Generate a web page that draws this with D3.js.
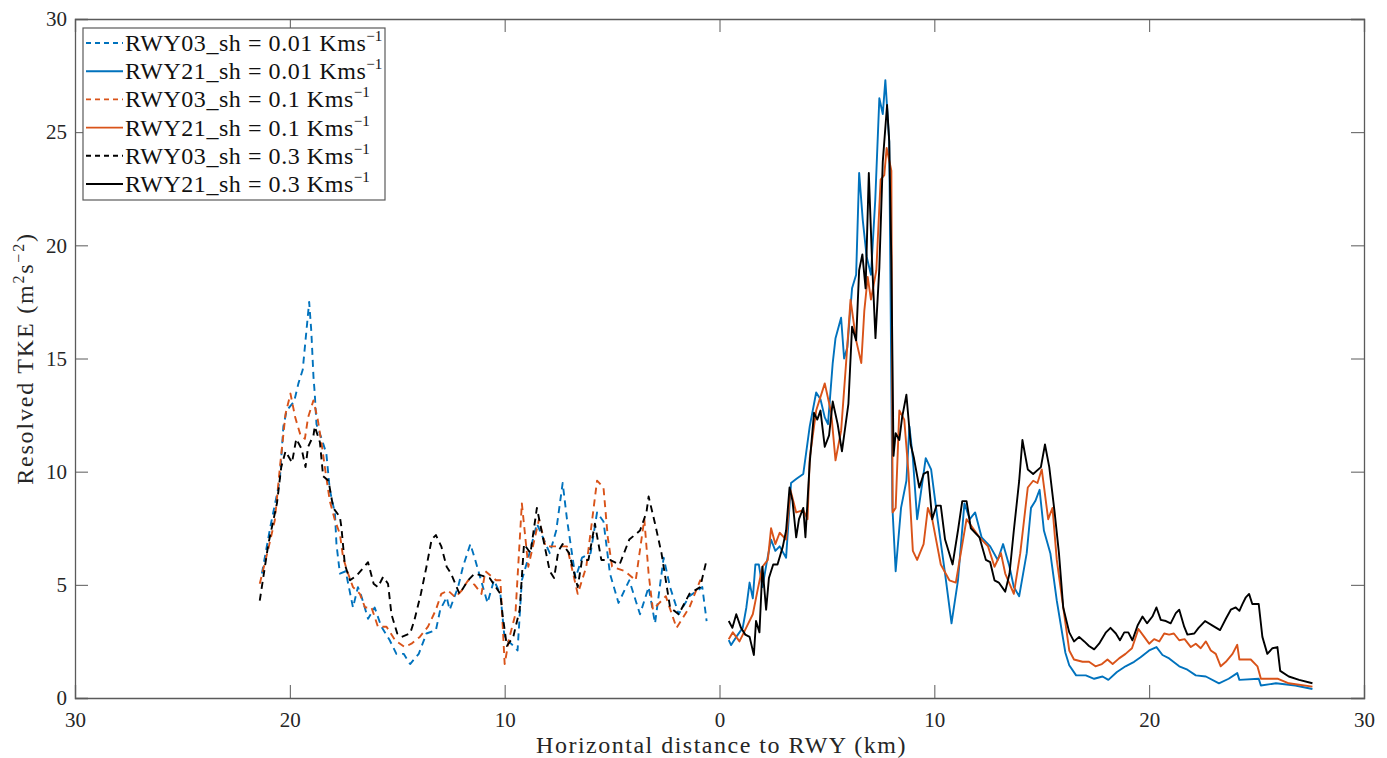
<!DOCTYPE html>
<html>
<head>
<meta charset="utf-8">
<script src="https://cdn.jsdelivr.net/npm/d3@7"></script>
<style>
  body { margin: 0; background: #fff; }
  svg { font-family: "Liberation Serif", "Times New Roman", serif; }
</style>
</head>
<body>
<div class="chart"></div>
<script>
// RWY03 runs are on the approach side (negative x, shown as distance), RWY21 on the other side
var rwy03_001_x = [-21.3,-20.9,-20.47,-20.3,-20.15,-19.8,-19.6,-19.4,-19.2,-19.1,-19.0,-18.9,-18.84,-18.76,-18.5,-18.3,-18.14,-17.9,-17.83,-17.67,-17.4,-17.06,-16.83,-16.67,-16.36,-16.05,-15.74,-15.35,-15.04,-14.7,-14.4,-14.0,-13.64,-13.2,-13.0,-12.7,-12.56,-12.17,-11.94,-11.6,-11.4,-10.8,-10.5,-10.2,-10.0,-9.7,-9.4,-9.2,-8.9,-8.5,-7.9,-7.6,-7.3,-7.1,-6.7,-6.4,-6.0,-5.7,-5.4,-5.1,-4.7,-4.2,-3.7,-3.3,-3.0,-2.6,-2.3,-1.9,-1.4,-0.8,-0.6];
var rwy03_001_y = [5.5,7.6,9.6,12.0,12.7,13.1,13.9,14.5,16.5,17.5,16.2,14.2,13.45,12.1,11.4,10.8,9.2,8.15,6.8,5.5,5.6,4.0,4.9,4.5,3.5,4.0,3.15,2.55,1.95,1.95,1.5,1.95,2.85,3.0,3.9,4.45,3.9,4.9,5.8,6.8,6.2,4.2,5.2,4.6,2.6,2.4,2.1,5.2,6.2,7.7,6.4,7.4,9.5,7.9,5.3,6.2,6.4,8.2,7.8,5.5,4.2,5.2,3.7,4.9,3.3,6.2,4.9,3.7,4.5,4.9,3.4];

var rwy03_01_x = [-21.4,-21.0,-20.7,-20.45,-20.2,-19.97,-19.75,-19.5,-19.3,-19.15,-18.9,-18.7,-18.5,-18.37,-18.14,-17.9,-17.67,-17.52,-17.29,-17.06,-16.74,-16.5,-16.2,-15.9,-15.5,-15.1,-14.65,-14.34,-13.95,-13.57,-13.2,-12.95,-12.64,-12.3,-12.0,-11.7,-11.4,-11.08,-10.9,-10.4,-10.2,-10.0,-9.8,-9.5,-9.2,-8.9,-8.4,-8.1,-7.6,-7.1,-6.6,-6.2,-5.7,-5.4,-5.2,-5.0,-4.4,-3.9,-3.5,-3.3,-3.1,-2.5,-2.0,-1.4,-0.9,-0.6];
var rwy03_01_y = [5.05,6.6,7.85,10.3,12.55,13.45,12.4,11.6,11.45,12.4,13.15,12.3,11.1,10.2,8.7,7.85,7.25,6.2,5.5,4.9,4.6,4.0,4.0,3.15,3.15,2.55,2.25,2.4,2.7,3.15,3.9,4.6,4.75,4.45,4.75,5.2,5.0,4.6,5.6,5.2,5.2,1.5,2.6,3.7,8.6,5.8,7.9,6.7,6.7,6.7,4.6,5.8,9.6,9.3,7.1,5.8,5.6,5.2,7.9,5.5,3.9,4.5,3.1,4.0,5.2,5.1];

var rwy03_03_x = [-21.4,-21.0,-20.6,-20.4,-20.2,-19.9,-19.7,-19.45,-19.27,-19.15,-18.9,-18.84,-18.6,-18.45,-18.2,-17.98,-17.67,-17.6,-17.44,-17.2,-16.9,-16.67,-16.36,-16.1,-15.9,-15.66,-15.43,-15.27,-15.0,-14.8,-14.4,-14.2,-13.9,-13.64,-13.4,-13.2,-12.95,-12.7,-12.5,-12.1,-11.7,-11.4,-10.7,-10.2,-10.1,-9.9,-9.6,-9.3,-9.1,-8.8,-8.5,-8.2,-7.9,-7.7,-7.5,-7.3,-7.0,-6.6,-6.4,-6.1,-5.8,-5.5,-5.1,-4.65,-4.2,-3.7,-3.4,-3.3,-3.0,-2.7,-2.3,-1.9,-1.4,-0.9,-0.6];
var rwy03_03_y = [4.3,6.8,8.6,10.2,10.9,10.4,11.45,11.0,10.2,11.1,11.6,12.0,11.3,9.8,9.6,8.4,8.0,7.55,5.9,5.2,5.4,5.65,6.0,5.05,4.9,5.35,5.05,3.7,2.85,2.7,2.85,3.45,4.6,5.8,7.0,7.2,6.7,5.8,5.5,4.6,5.2,5.5,5.3,4.6,3.7,2.3,2.7,3.9,6.8,6.4,8.4,7.0,5.6,5.3,6.5,6.8,6.4,4.9,6.1,6.1,7.7,6.1,6.1,5.9,7.0,7.4,8.2,8.9,7.7,6.4,4.0,3.7,4.6,4.9,6.1];

var rwy21_001_x = [0.43,0.54,0.78,1.08,1.25,1.4,1.55,1.67,1.83,2.0,2.2,2.4,2.6,2.8,3.1,3.33,3.6,3.9,4.2,4.5,4.7,4.9,5.05,5.27,5.4,5.66,5.8,5.95,6.17,6.36,6.5,6.67,6.85,7.05,7.25,7.44,7.6,7.72,7.9,8.05,8.2,8.45,8.7,8.84,9.0,9.2,9.6,9.85,10.15,10.5,10.8,11.1,11.4,11.65,11.9,12.2,12.6,12.95,13.2,13.5,13.7,13.95,14.3,14.5,14.7,14.9,15.1,15.4,15.7,16.1,16.28,16.6,17.05,17.44,17.83,18.1,18.5,18.9,19.3,19.6,20.0,20.34,20.62,20.93,21.4,21.78,22.17,22.64,23.25,23.7,24.1,24.2,25.1,25.2,25.9,26.8,27.6];
var rwy21_001_y = [2.56,2.34,2.7,3.1,4.0,5.1,4.4,5.9,5.9,4.9,6.0,7.0,6.5,6.7,6.2,9.5,9.7,9.9,12.0,13.5,13.2,12.4,12.1,14.8,15.9,16.8,15.0,15.5,18.1,18.7,23.2,21.1,19.5,18.7,22.0,26.5,25.8,27.3,24.6,8.4,5.6,8.4,9.6,12.0,10.6,7.9,10.6,10.1,7.9,5.5,3.3,5.2,8.6,7.9,8.2,7.1,6.7,6.1,6.8,5.8,4.9,4.5,6.4,8.4,8.7,9.2,7.4,6.4,4.3,2.0,1.45,1.0,1.0,0.85,0.95,0.8,1.15,1.4,1.6,1.8,2.1,2.25,1.9,1.75,1.4,1.25,1.0,0.95,0.65,0.85,1.1,0.8,0.85,0.55,0.65,0.55,0.4];

var rwy21_01_x = [0.43,0.62,0.93,1.24,1.55,1.78,2.0,2.25,2.4,2.6,2.8,3.1,3.3,3.57,3.9,4.1,4.2,4.5,4.9,5.2,5.4,5.66,5.9,6.1,6.36,6.6,6.74,6.9,7.05,7.3,7.5,7.67,7.78,8.0,8.06,8.2,8.37,8.6,8.8,9.0,9.2,9.5,9.7,9.9,10.3,10.7,11.0,11.5,11.8,12.1,12.5,12.8,13.1,13.3,13.7,14.0,14.35,14.6,14.8,15.0,15.3,15.5,15.7,16.0,16.28,16.5,16.9,17.2,17.5,17.8,18.06,18.3,18.6,18.9,19.2,19.5,19.77,20.0,20.23,20.47,20.7,20.93,21.15,21.4,21.65,21.94,22.17,22.4,22.64,22.87,23.1,23.33,23.57,23.88,24.1,24.2,24.73,25.04,25.2,26.0,26.5,27.6];
var rwy21_01_y = [2.6,2.9,2.5,3.1,3.7,4.8,5.8,6.1,7.5,6.8,7.3,7.0,9.2,8.2,8.3,7.9,10.6,12.7,13.9,12.6,10.5,11.8,14.9,17.6,15.8,14.8,17.1,18.6,17.6,18.9,22.9,23.1,24.3,23.3,8.2,8.4,12.7,12.3,9.9,6.5,6.1,6.8,8.4,7.9,5.9,5.2,5.1,7.9,7.5,7.1,6.7,5.8,6.4,5.5,4.6,6.4,9.3,9.6,9.5,10.1,7.9,8.4,6.1,4.0,2.1,1.7,1.6,1.6,1.4,1.5,1.7,1.5,1.75,1.95,2.2,3.05,2.7,2.4,2.6,2.5,2.85,2.8,2.85,2.55,2.6,2.25,2.4,2.2,2.5,2.1,1.95,1.4,1.6,1.95,2.35,1.7,1.7,1.4,0.85,0.85,0.65,0.5];

var rwy21_03_x = [0.43,0.6,0.78,1.0,1.2,1.4,1.6,1.7,1.86,2.0,2.17,2.3,2.5,2.7,2.95,3.1,3.26,3.4,3.57,3.7,3.9,4.0,4.2,4.4,4.55,4.7,4.9,5.1,5.27,5.5,5.7,6.0,6.17,6.36,6.5,6.65,6.8,6.95,7.1,7.26,7.44,7.6,7.8,7.9,8.0,8.1,8.2,8.37,8.5,8.7,8.9,9.05,9.3,9.5,9.7,9.9,10.1,10.3,10.5,10.85,11.1,11.3,11.5,11.7,12.1,12.4,12.6,12.8,13.0,13.3,13.5,13.7,13.95,14.1,14.35,14.6,14.96,15.15,15.35,15.6,15.8,16.0,16.28,16.5,16.74,16.98,17.2,17.44,17.67,17.99,18.2,18.45,18.64,18.84,19.03,19.22,19.46,19.69,19.9,20.15,20.34,20.54,20.78,21.0,21.24,21.4,21.63,21.78,22.1,22.3,22.6,22.95,23.3,23.57,23.8,24.03,24.2,24.34,24.5,24.65,24.8,25.1,25.27,25.5,25.74,25.97,26.1,26.5,26.98,27.6];
var rwy21_03_y = [3.4,3.1,3.7,3.1,2.8,2.7,1.9,3.4,2.9,5.8,3.9,5.3,5.9,5.9,6.7,7.4,9.3,8.7,7.1,7.9,8.4,7.1,10.4,12.6,12.3,12.7,11.1,11.6,13.1,12.1,10.9,13.0,16.4,15.8,18.9,19.6,18.1,23.2,19.3,15.9,19.0,23.7,26.2,24.6,19.3,10.7,11.7,11.4,12.4,13.4,11.2,10.6,9.3,9.9,10.0,7.9,8.5,8.5,7.0,5.9,7.4,8.7,8.7,7.5,7.1,6.1,6.0,5.2,5.1,4.7,5.5,7.4,9.6,11.4,10.1,9.9,10.2,11.2,10.2,8.2,6.4,4.0,2.9,2.5,2.7,2.5,2.3,2.15,2.4,2.9,3.1,2.85,2.55,2.9,2.9,2.55,3.2,3.6,3.3,3.6,4.0,3.45,3.4,3.3,3.75,3.9,3.15,2.8,2.85,3.1,3.4,3.2,3.0,3.5,3.9,4.0,3.85,4.15,4.45,4.6,4.15,4.15,2.7,1.95,2.2,2.25,1.2,0.95,0.8,0.65];

var seriesNames = ["RWY03_sh = 0.01 Kms", "RWY21_sh = 0.01 Kms", "RWY03_sh = 0.1 Kms", "RWY21_sh = 0.1 Kms", "RWY03_sh = 0.3 Kms", "RWY21_sh = 0.3 Kms"];
var xTicks = [-30, -20, -10, 0, 10, 20, 30];
var yTicks = [0, 5, 10, 15, 20, 25, 30];

var blue = "#0072BD", orange = "#D95319", black = "#000000";

var series = [
  {name: seriesNames[0], xs: rwy03_001_x, ys: rwy03_001_y, color: blue, dash: true},
  {name: seriesNames[1], xs: rwy21_001_x, ys: rwy21_001_y, color: blue, dash: false},
  {name: seriesNames[2], xs: rwy03_01_x, ys: rwy03_01_y, color: orange, dash: true},
  {name: seriesNames[3], xs: rwy21_01_x, ys: rwy21_01_y, color: orange, dash: false},
  {name: seriesNames[4], xs: rwy03_03_x, ys: rwy03_03_y, color: black, dash: true},
  {name: seriesNames[5], xs: rwy21_03_x, ys: rwy21_03_y, color: black, dash: false}
];

drawChart();

function drawChart(){
  var W = 1387, H = 758;
  var m = {left: 75, right: 1364, top: 19, bottom: 698};
  var axisColor = "#5a5a5a";
  var tickLen = 13;

  var svg = d3.select(".chart").append("svg")
    .attr("width", W).attr("height", H);

  var x = d3.scaleLinear().domain([-30, 30]).range([m.left, m.right]);
  var y = d3.scaleLinear().domain([0, 30]).range([m.bottom, m.top]);

  // axes, ticks pointing inward like matlab
  var xAxis = d3.axisBottom(x).tickValues(xTicks).tickSize(-tickLen).tickPadding(14)
    .tickFormat(function(d){ return Math.abs(d); });
  var xTop = d3.axisTop(x).tickValues(xTicks).tickSize(-tickLen).tickFormat("");
  var yAxis = d3.axisLeft(y).tickValues(yTicks).tickSize(-tickLen).tickPadding(8);
  var yRight = d3.axisRight(y).tickValues(yTicks).tickSize(-tickLen).tickFormat("");

  var gx = svg.append("g").attr("transform", "translate(0," + m.bottom + ")").call(xAxis);
  var gxt = svg.append("g").attr("transform", "translate(0," + m.top + ")").call(xTop);
  var gy = svg.append("g").attr("transform", "translate(" + m.left + ",0)").call(yAxis);
  var gyr = svg.append("g").attr("transform", "translate(" + m.right + ",0)").call(yRight);

  [gx, gxt, gy, gyr].forEach(function(g){
    g.select(".domain").attr("stroke", axisColor).attr("stroke-width", 1.3);
    g.selectAll(".tick line").attr("stroke", axisColor).attr("stroke-width", 1);
    g.selectAll(".tick text").attr("fill", "#262626")
      .style("font-family", "'Liberation Serif', serif").style("font-size", "21px");
  });

  var line = d3.line()
    .x(function(d){ return x(d[0]); })
    .y(function(d){ return y(d[1]); });

  var plot = svg.append("g");
  series.forEach(function(s){
    var pts = s.xs.map(function(v, i){ return [v, s.ys[i]]; });
    plot.append("path")
      .datum(pts)
      .attr("d", line)
      .attr("fill", "none")
      .attr("stroke", s.color)
      .attr("stroke-width", 1.9)
      .attr("stroke-linejoin", "round")
      .attr("stroke-dasharray", s.dash ? "7,5" : null);
  });

  // legend
  var lg = svg.append("g");
  lg.append("rect")
    .attr("x", 83).attr("y", 28).attr("width", 302).attr("height", 172)
    .attr("fill", "#fff").attr("stroke", axisColor).attr("stroke-width", 1.2);
  series.forEach(function(s, i){
    var yy = 43 + i * 28.2;
    lg.append("line")
      .attr("x1", 86).attr("x2", 123).attr("y1", yy).attr("y2", yy)
      .attr("stroke", s.color).attr("stroke-width", 1.9)
      .attr("stroke-dasharray", s.dash ? "5,4" : null);
    var t = lg.append("text")
      .attr("x", 125).attr("y", yy + 8)
      .attr("fill", "#111")
      .style("font-size", "24px")
      .style("letter-spacing", "0.55px");
    t.append("tspan").text(s.name);
    t.append("tspan").attr("dy", -10).style("font-size", "15px").style("letter-spacing", "0px").text("\u22121");
  });

  // axis labels
  svg.append("text")
    .attr("x", (m.left + m.right) / 2 + 2).attr("y", 753)
    .attr("text-anchor", "middle")
    .attr("fill", "#262626")
    .style("font-size", "24px")
    .style("letter-spacing", "1.5px")
    .text("Horizontal distance to RWY (km)");

  var yl = svg.append("text")
    .attr("transform", "translate(33," + ((m.top + m.bottom) / 2) + ") rotate(-90)")
    .attr("text-anchor", "middle")
    .attr("fill", "#262626")
    .style("font-size", "24px")
    .style("letter-spacing", "1.8px");
  yl.append("tspan").text("Resolved TKE (m");
  yl.append("tspan").attr("dy", -9).style("font-size", "16px").text("2");
  yl.append("tspan").attr("dy", 9).text("s");
  yl.append("tspan").attr("dy", -9).style("font-size", "16px").text("\u22122");
  yl.append("tspan").attr("dy", 9).text(")");
}
</script>
</body>
</html>
